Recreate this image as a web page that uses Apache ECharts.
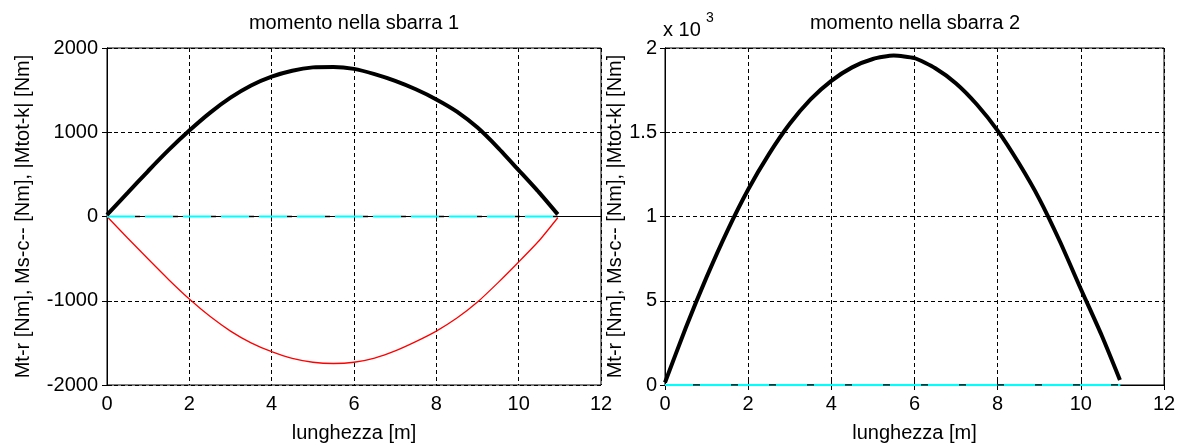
<!DOCTYPE html>
<html>
<head>
<meta charset="utf-8">
<script src="https://cdn.jsdelivr.net/npm/echarts@6/dist/echarts.min.js"></script>
<style>
  html, body { margin: 0; padding: 0; background: #fff; }
  #chart { width: 1182px; height: 448px; }
</style>
</head>
<body>
<div id="chart"></div>
<script>
// Bending moment along bar 1 and bar 2
const xTicks = [0, 2, 4, 6, 8, 10, 12];

// bar 1
const xBar1 = [0, 0.5, 1, 1.5, 2, 2.5, 3, 3.5, 4, 4.5, 5, 5.5, 6, 6.5, 7, 7.5, 8, 8.5, 9, 9.5, 10, 10.5, 10.95];
const mtotBar1 = [20, 280, 540, 790, 1020, 1230, 1410, 1555, 1660, 1730, 1770, 1775, 1752, 1690, 1610, 1510, 1390, 1245, 1055, 815, 550, 283, 25];
const mtrBar1 = [0, -255, -505, -750, -980, -1185, -1360, -1500, -1605, -1685, -1730, -1745, -1730, -1680, -1595, -1485, -1360, -1205, -1015, -785, -540, -285, -15];
const xMscBar1 = [0, 10.95];
const mscBar1 = [0, 0];
const yTicksBar1 = [-2000, -1000, 0, 1000, 2000];

// bar 2
const xBar2 = [0, 0.5, 1, 1.5, 2, 2.5, 3, 3.5, 4, 4.5, 5, 5.5, 6, 6.5, 7, 7.5, 8, 8.5, 9, 9.5, 10, 10.5, 10.94];
const mtotBar2 = [15, 340, 640, 915, 1160, 1370, 1550, 1695, 1805, 1885, 1935, 1955, 1940, 1880, 1790, 1665, 1510, 1320, 1105, 850, 570, 295, 30];
const xMscBar2 = [0, 10.95];
const mscBar2 = [0, 0];
const yTicksBar2 = [0, 500, 1000, 1500, 2000];
const yTickLabelsBar2 = ['0', '5', '1', '1.5', '2'];

const titles = ['momento nella sbarra 1', 'momento nella sbarra 2'];
const xName = 'lunghezza [m]';
const yName = 'Mt-r [Nm], Ms-c-- [Nm], |Mtot-k| [Nm]';

const FONT = "'Liberation Sans', Arial, sans-serif";
const pairs = (xs, ys) => xs.map((x, i) => [x, ys[i]]);

const gridBoxes = [
  { left: 107, top: 48, width: 494, height: 339 },
  { left: 665, top: 48, width: 499, height: 339 }
];

const labelStyle = { color: '#000', fontSize: 20, fontFamily: FONT };
const dashGrid = { show: true, lineStyle: { color: '#000', width: 1, type: [4, 3] } };

function mainX(gi) {
  return {
    type: 'value', gridIndex: gi, min: xTicks[0], max: xTicks[xTicks.length - 1], interval: 2,
    axisLine: { lineStyle: { color: '#000', width: 1 } },
    axisTick: { inside: true, length: 5, lineStyle: { color: '#000' } },
    axisLabel: Object.assign({ margin: 9 }, labelStyle),
    splitLine: dashGrid,
    name: xName, nameLocation: 'middle', nameGap: 38,
    nameTextStyle: labelStyle
  };
}
function mirrorX(gi) {
  return {
    type: 'value', gridIndex: gi, position: 'top', min: xTicks[0], max: xTicks[xTicks.length - 1], interval: 2,
    axisLine: { lineStyle: { color: '#000', width: 1 } },
    axisTick: { inside: true, length: 5, lineStyle: { color: '#000' } },
    axisLabel: { show: false }, splitLine: { show: false }
  };
}
function mainY(gi, min, max, interval, gap, margin, fmt) {
  return {
    type: 'value', gridIndex: gi, min: min, max: max, interval: interval,
    axisLine: { show: true, lineStyle: { color: '#000', width: 1 } },
    axisTick: { show: true, inside: true, length: 5, lineStyle: { color: '#000' } },
    axisLabel: Object.assign({ margin: margin, formatter: fmt }, labelStyle),
    splitLine: dashGrid,
    name: yName, nameLocation: 'middle', nameRotate: 90, nameGap: gap,
    nameTextStyle: labelStyle
  };
}
function mirrorY(gi, min, max, interval) {
  return {
    type: 'value', gridIndex: gi, position: 'right', min: min, max: max, interval: interval,
    axisLine: { show: true, lineStyle: { color: '#000', width: 1 } },
    axisTick: { show: true, inside: true, length: 5, lineStyle: { color: '#000' } },
    axisLabel: { show: false }, splitLine: { show: false }
  };
}

const chart = echarts.init(document.getElementById('chart'), null, { renderer: 'canvas' });

const option = {
  animation: false,
  backgroundColor: '#fff',
  grid: gridBoxes.map(g => Object.assign({ show: true, borderColor: '#000', borderWidth: 1, backgroundColor: '#fff' }, g)),
  xAxis: [mainX(0), mainX(1), mirrorX(0), mirrorX(1)],
  yAxis: [
    mainY(0, yTicksBar1[0], yTicksBar1[yTicksBar1.length - 1], 1000, 74, 9, v => String(v)),
    mainY(1, yTicksBar2[0], yTicksBar2[yTicksBar2.length - 1], 500, 35, 8,
      v => yTickLabelsBar2[yTicksBar2.indexOf(v)]),
    mirrorY(0, yTicksBar1[0], yTicksBar1[yTicksBar1.length - 1], 1000),
    mirrorY(1, yTicksBar2[0], yTicksBar2[yTicksBar2.length - 1], 500)
  ],
  graphic: [
    { type: 'text', x: 354, y: 13, style: { text: titles[0], font: '20px ' + FONT, fill: '#000', align: 'center', verticalAlign: 'top' } },
    { type: 'text', x: 915, y: 13, style: { text: titles[1], font: '20px ' + FONT, fill: '#000', align: 'center', verticalAlign: 'top' } },
    { type: 'text', x: 663, y: 20, style: { text: 'x 10', font: '20px ' + FONT, fill: '#000', align: 'left', verticalAlign: 'top' } },
    { type: 'text', x: 706, y: 11, style: { text: '3', font: '14px ' + FONT, fill: '#000', align: 'left', verticalAlign: 'top' } }
  ],
  series: [
    // bar 1
    { type: 'line', xAxisIndex: 0, yAxisIndex: 0, data: pairs(xBar1, mtrBar1), showSymbol: false, smooth: 0.2,
      lineStyle: { color: '#ff0000', width: 1.3 }, z: 3 },
    { type: 'line', xAxisIndex: 0, yAxisIndex: 0, data: pairs(xMscBar1, mscBar1), showSymbol: false,
      lineStyle: { color: '#00ffff', width: 2, type: [28, 10] }, z: 4 },
    { type: 'line', xAxisIndex: 0, yAxisIndex: 0, data: pairs(xMscBar1, mscBar1), showSymbol: false,
      lineStyle: { color: '#000', width: 1.5, type: [5, 33], dashOffset: 10 }, z: 5 },
    { type: 'line', xAxisIndex: 0, yAxisIndex: 0, data: pairs(xBar1, mtotBar1), showSymbol: false, smooth: 0.2,
      lineStyle: { color: '#000', width: 4 }, z: 6 },
    // bar 2
    { type: 'line', xAxisIndex: 1, yAxisIndex: 1, data: pairs(xMscBar2, mscBar2), showSymbol: false,
      lineStyle: { color: '#00ffff', width: 2 }, z: 4 },
    { type: 'line', xAxisIndex: 1, yAxisIndex: 1, data: pairs(xMscBar2, mscBar2), showSymbol: false,
      lineStyle: { color: '#000', width: 1.5, type: [7, 31], dashOffset: 10 }, z: 5 },
    { type: 'line', xAxisIndex: 1, yAxisIndex: 1, data: pairs(xBar2, mtotBar2), showSymbol: false, smooth: 0.2,
      lineStyle: { color: '#000', width: 4 }, z: 6 }
  ]
};

chart.setOption(option);
</script>
</body>
</html>
